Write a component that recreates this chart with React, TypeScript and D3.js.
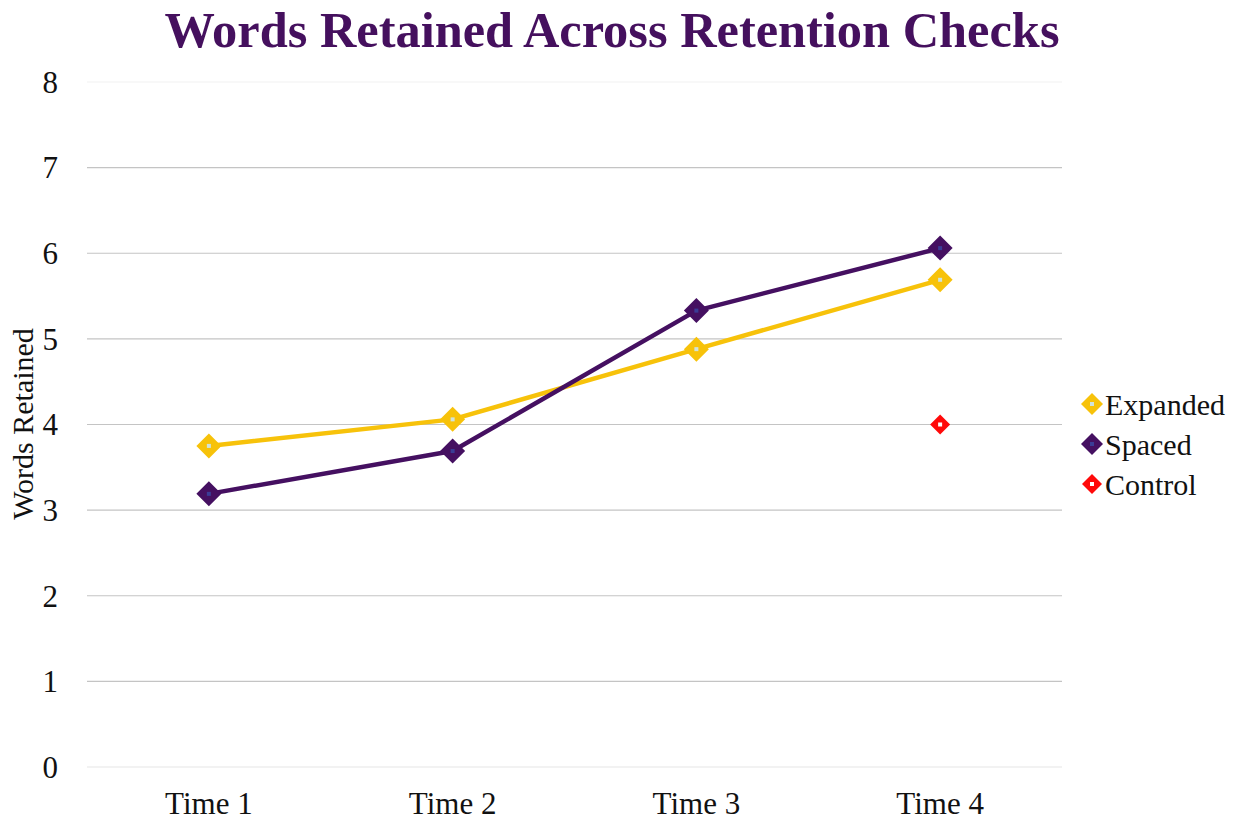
import React, { useRef, useEffect } from 'react';
import * as d3 from 'd3';

const categories = ['Time 1', 'Time 2', 'Time 3', 'Time 4'];
const expanded = [3.75, 4.06, 4.88, 5.69];
const spaced = [3.19, 3.69, 5.33, 6.06];
const control = [null, null, null, 4.0];
const yTicks = [0, 1, 2, 3, 4, 5, 6, 7, 8];

const series = [
  { name: 'Expanded', values: expanded, color: '#F7C20A', dot: '#CFE3DC', size: 12.5 },
  { name: 'Spaced', values: spaced, color: '#451061', dot: '#3B3C96', size: 12.5 },
  { name: 'Control', values: control, color: '#FF0A0A', dot: '#FFFFFF', size: 10 },
];

export default function App() {
  const svgRef = useRef<SVGSVGElement>(null);

  useEffect(() => {
    const svg = d3.select(svgRef.current);
    svg.selectAll('*').remove();

    const width = 1237;
    const height = 820;
    const left = 87, right = 1062, top = 82, bottom = 767;
    const font = '"Liberation Serif", "Times New Roman", serif';

    const x = d3.scaleBand().domain(categories).range([left, right]).padding(0);
    const cx = (c: string) => (x(c) as number) + x.bandwidth() / 2;
    const y = d3.scaleLinear().domain([0, 8]).range([bottom, top]);

    svg.append('rect').attr('width', width).attr('height', height).attr('fill', 'white');

    // Title
    svg.append('text')
      .attr('x', 612).attr('y', 47)
      .attr('text-anchor', 'middle')
      .attr('font-family', font)
      .attr('font-weight', 'bold')
      .attr('font-size', 51)
      .attr('fill', '#45105E')
      .attr('textLength', 895)
      .attr('lengthAdjust', 'spacingAndGlyphs')
      .text('Words Retained Across Retention Checks');

    // Gridlines
    svg.append('g')
      .selectAll('line')
      .data(yTicks)
      .enter()
      .append('line')
      .attr('x1', left).attr('x2', right)
      .attr('y1', d => y(d)).attr('y2', d => y(d))
      .attr('stroke', d => (d === 8 ? '#f2f2f2' : d === 0 ? '#e6e6e6' : '#c4c4c4'))
      .attr('stroke-width', 1.2);

    // Y tick labels
    svg.append('g')
      .selectAll('text')
      .data(yTicks)
      .enter()
      .append('text')
      .attr('x', 58).attr('y', d => y(d))
      .attr('dy', '0.35em')
      .attr('text-anchor', 'end')
      .attr('font-family', font)
      .attr('font-size', 31)
      .attr('fill', '#111')
      .text(d => d);

    // X tick labels
    svg.append('g')
      .selectAll('text')
      .data(categories)
      .enter()
      .append('text')
      .attr('x', d => cx(d)).attr('y', 814)
      .attr('text-anchor', 'middle')
      .attr('font-family', font)
      .attr('font-size', 31)
      .attr('fill', '#111')
      .text(d => d);

    // Y axis title
    svg.append('text')
      .attr('transform', 'translate(33, 424) rotate(-90)')
      .attr('text-anchor', 'middle')
      .attr('font-family', font)
      .attr('font-size', 30)
      .attr('fill', '#111')
      .text('Words Retained');

    const diamond = (g: any, px: number, py: number, s: any) => {
      g.append('path')
        .attr('d', `M${px},${py - s.size}L${px + s.size},${py}L${px},${py + s.size}L${px - s.size},${py}Z`)
        .attr('fill', s.color);
      g.append('rect')
        .attr('x', px - 2).attr('y', py - 2)
        .attr('width', 4).attr('height', 4)
        .attr('fill', s.dot);
    };

    // Lines and markers
    series.forEach(s => {
      const pts = categories
        .map((c, i) => ({ c, v: s.values[i] }))
        .filter(p => p.v !== null) as { c: string; v: number }[];
      const line = d3.line<{ c: string; v: number }>()
        .x(p => cx(p.c))
        .y(p => y(p.v));
      if (pts.length > 1) {
        svg.append('path')
          .datum(pts)
          .attr('d', line)
          .attr('fill', 'none')
          .attr('stroke', s.color)
          .attr('stroke-width', 4.5)
          .attr('stroke-linejoin', 'round');
      }
      const g = svg.append('g');
      pts.forEach(p => diamond(g, cx(p.c), y(p.v), s));
    });

    // Legend
    const lg = svg.append('g');
    series.forEach((s, i) => {
      const ly = 404 + i * 40;
      diamond(lg, 1092, ly, { ...s, size: s.name === 'Control' ? 10 : 11 });
      lg.append('text')
        .attr('x', 1105).attr('y', ly)
        .attr('dy', '0.35em')
        .attr('font-family', font)
        .attr('font-size', 30)
        .attr('fill', '#111')
        .text(s.name);
    });
  }, []);

  return (
    <svg
      ref={svgRef}
      width={1237}
      height={820}
      style={{ display: 'block', position: 'absolute', top: 0, left: 0 }}
    ></svg>
  );
}
